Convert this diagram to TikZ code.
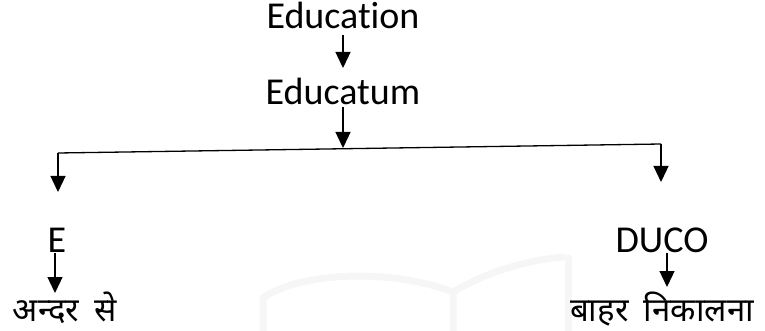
\documentclass[tikz,border=0pt]{standalone}
\usepackage{fontspec}
\setmainfont{Carlito}[Ligatures={NoCommon,NoContextual}]
\newfontfamily\hindi[Script=Devanagari,WordSpace=1.8]{Noto Sans}
\usetikzlibrary{arrows.meta}
\definecolor{wm}{HTML}{F6F6F6}
\tikzset{
  lat/.style={inner sep=0pt, anchor=base, font=\fontsize{38}{40}\selectfont},
  hin/.style={inner sep=0pt, anchor=base, font=\hindi\fontsize{33}{36}\selectfont},
  arr/.style={line width=1.3pt, -{Triangle[width=15pt,length=16pt]}},
  bar/.style={line width=1.3pt},
  mark wm/.style={draw=wm, line width=7pt, line cap=round}
}
\begin{document}
\begin{tikzpicture}[x=1pt,y=-1pt]
\useasboundingbox (0,0) rectangle (765,331);
% faint watermark
\draw[mark wm] (263,335) -- (263,298) .. controls (300,272) and (390,268) .. (453,292);
\draw[mark wm] (453,335) -- (453,292) .. controls (490,270) and (530,260) .. (563,257);
\draw[mark wm] (568,335) -- (568,258);
% texts
\node[lat] (edu) at (343,29) {Education};
\node[lat] (educatum) at (343,105) {Educatum};
\node[lat] (E) at (57,252) {E};
\node[lat] (duco) at (662,252) {DUCO};
\node[hin] (andar) at (65,321) {अन्दर से};
\node[hin] (bahar) at (662,321) {बाहर निकालना};
% coordinates
\coordinate (barL) at (58,153);
\coordinate (barR) at (661,144);
\coordinate (barM) at (343,148);
\coordinate (tipL) at (58,192);
\coordinate (tipR) at (661,182);
% connectors
\draw[arr] (edu.south |- 0,35) -- (edu.south |- 0,68);
\draw[arr] (educatum.south |- 0,107) -- (barM);
\draw[bar] (barL) -- (barR);
\draw[arr] (barL) -- (tipL);
\draw[arr] (barR) -- (tipR);
\draw[arr] ([xshift=-2pt]E.south |- 0,253) -- ([xshift=-2pt]E.south |- 0,293);
\draw[arr] ([xshift=5pt]duco.south |- 0,253) -- ([xshift=5pt]duco.south |- 0,287);
\end{tikzpicture}
\end{document}
